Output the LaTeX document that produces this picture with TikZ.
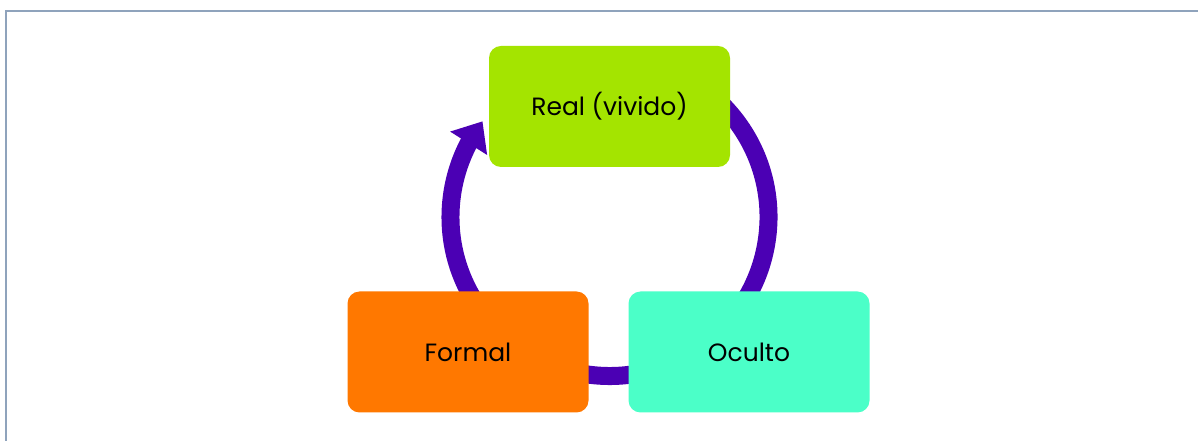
\documentclass[tikz,border=0pt]{standalone}
\usepackage{fontspec}
\setmainfont{Poppins}
\usetikzlibrary{arrows.meta,bending}
\definecolor{realc}{HTML}{A4E400}
\definecolor{formalc}{HTML}{FF7800}
\definecolor{ocultoc}{HTML}{4BFFC8}
\definecolor{arcc}{HTML}{4B00B4}
\definecolor{framec}{HTML}{8FA3BC}
\tikzset{
  box/.style={rounded corners=12pt, minimum width=241pt, minimum height=121pt, inner sep=0pt, font=\fontsize{25}{30}\selectfont, text=black},
  cyc/.style={draw=arcc, line width=18pt}
}
\begin{document}
\begin{tikzpicture}[x=1pt,y=1pt]
\useasboundingbox (0,0) rectangle (1198,441);
\fill[white] (0,0) rectangle (1198,441);
\draw[framec, line width=2pt] (6,0) -- (6,430) -- (1198,430);
\coordinate (c) at (609.5,224);
\draw[cyc, -{Triangle[length=26pt,width=42pt,flex]}] ([shift={(80:159)}]c) arc[start angle=80, end angle=-217, radius=159];
\node[box, fill=realc] (real) at (609.5,334.5) {Real (vivido)};
\node[box, fill=formalc] (formal) at (468,89) {Formal};
\node[box, fill=ocultoc] (oculto) at (749,89) {Oculto};
\end{tikzpicture}
\end{document}
